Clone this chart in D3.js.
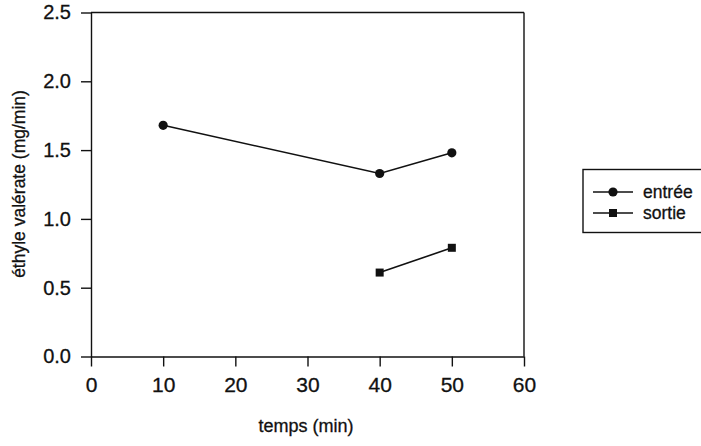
<!DOCTYPE html>
<html>
<head>
<meta charset="utf-8" />
<title>éthyle valérate</title>
<script src="https://d3js.org/d3.v7.min.js"></script>
<style type="text/css">
body { margin: 0; background: #fff; }
svg text { font-family: "Liberation Sans", Arial, sans-serif; fill: #111; stroke: #111; stroke-width: 0.3px; }
.domain, .tick line { stroke: #111; stroke-width: 1.4px; }
</style>
</head>
<body>
<div id="svg"></div>
<script type="text/javascript">
// data
var xTicks = [0, 10, 20, 30, 40, 50, 60];
var yTicks = [0, 0.5, 1.0, 1.5, 2.0, 2.5];
var entreeX = [10, 40, 50];
var entreeY = [1.68, 1.33, 1.48];
var sortieX = [40, 50];
var sortieY = [0.61, 0.79];
var seriesNames = ["entrée", "sortie"];

var width = 701,
    height = 446;

var svg = d3.select("#svg")
    .append("svg")
    .attr("width", width)
    .attr("height", height);

var xScale = d3.scaleLinear()
    .domain([0, 60])
    .range([91, 524]);

var yScale = d3.scaleLinear()
    .domain([0, 2.5])
    .range([356.5, 12.5]);

var xAxis = d3.axisBottom(xScale)
    .tickValues(xTicks)
    .tickFormat(d3.format("d"))
    .tickSize(10)
    .tickSizeOuter(0)
    .tickPadding(11);

var yAxis = d3.axisLeft(yScale)
    .tickValues(yTicks)
    .tickFormat(d3.format(".1f"))
    .tickSize(10)
    .tickSizeOuter(0)
    .tickPadding(10);

// frame: top and right edges
svg.append("line")
    .attr("x1", xScale(0)).attr("x2", xScale(60))
    .attr("y1", yScale(2.5)).attr("y2", yScale(2.5))
    .attr("stroke", "#111").attr("stroke-width", 1.4);
svg.append("line")
    .attr("x1", xScale(60)).attr("x2", xScale(60))
    .attr("y1", yScale(2.5)).attr("y2", yScale(0))
    .attr("stroke", "#111").attr("stroke-width", 1.4);

var gX = svg.append("g")
    .attr("transform", "translate(0," + yScale(0) + ")")
    .call(xAxis);
gX.selectAll("text").style("font-size", "21px");

var gY = svg.append("g")
    .attr("transform", "translate(" + xScale(0) + ",0)")
    .call(yAxis);
gY.selectAll("text").style("font-size", "20px");

// axis titles
svg.append("text")
    .attr("x", 306)
    .attr("y", 432)
    .attr("text-anchor", "middle")
    .style("font-size", "18px")
    .text("temps (min)");

svg.append("text")
    .attr("transform", "translate(25,184) rotate(-90)")
    .attr("text-anchor", "middle")
    .style("font-size", "17.5px")
    .text("éthyle valérate (mg/min)");

// series
var line = d3.line()
    .x(d => xScale(d[0]))
    .y(d => yScale(d[1]));

var entree = entreeX.map((x, i) => [x, entreeY[i]]);
var sortie = sortieX.map((x, i) => [x, sortieY[i]]);

svg.append("path")
    .datum(entree)
    .attr("d", line)
    .attr("fill", "none")
    .attr("stroke", "#111")
    .attr("stroke-width", 1.6);

svg.selectAll(".pt-entree")
    .data(entree)
    .enter()
    .append("circle")
    .attr("cx", d => xScale(d[0]))
    .attr("cy", d => yScale(d[1]))
    .attr("r", 4.6)
    .attr("fill", "#111");

svg.append("path")
    .datum(sortie)
    .attr("d", line)
    .attr("fill", "none")
    .attr("stroke", "#111")
    .attr("stroke-width", 1.6);

svg.selectAll(".pt-sortie")
    .data(sortie)
    .enter()
    .append("rect")
    .attr("x", d => xScale(d[0]) - 4)
    .attr("y", d => yScale(d[1]) - 4)
    .attr("width", 8)
    .attr("height", 8)
    .attr("fill", "#111");

// legend
var legend = svg.append("g");
legend.append("rect")
    .attr("x", 583)
    .attr("y", 169.5)
    .attr("width", 130)
    .attr("height", 63)
    .attr("fill", "none")
    .attr("stroke", "#111")
    .attr("stroke-width", 1.4);

var items = legend.selectAll(".item")
    .data(seriesNames)
    .enter()
    .append("g")
    .attr("transform", (d, i) => "translate(0," + (192 + i * 21) + ")");

items.append("line")
    .attr("x1", 593).attr("x2", 633)
    .attr("stroke", "#111").attr("stroke-width", 1.6);

items.each(function(d, i) {
    var g = d3.select(this);
    if (i == 0) {
        g.append("circle").attr("cx", 613).attr("r", 4.6).attr("fill", "#111");
    } else {
        g.append("rect").attr("x", 609).attr("y", -4).attr("width", 8).attr("height", 8).attr("fill", "#111");
    }
});

items.append("text")
    .attr("x", 643)
    .attr("y", 6)
    .style("font-size", "17.5px")
    .text(d => d);
</script>
</body>
</html>
